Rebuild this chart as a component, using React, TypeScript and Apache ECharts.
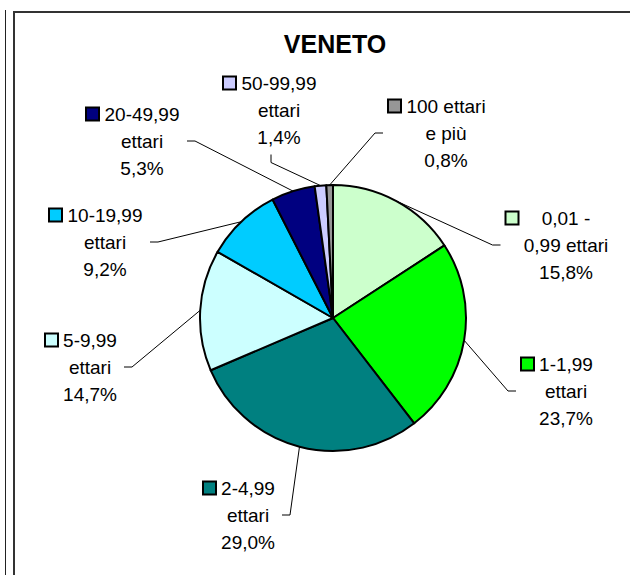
import { useEffect, useRef } from "react";
import * as echarts from "echarts";

// ---- data ----
const categories = [
  "0,01 - 0,99 ettari",
  "1-1,99 ettari",
  "2-4,99 ettari",
  "5-9,99 ettari",
  "10-19,99 ettari",
  "20-49,99 ettari",
  "50-99,99 ettari",
  "100 ettari e più",
];
const labelTextLines = [
  ["0,01 -", "0,99 ettari"],
  ["1-1,99", "ettari"],
  ["2-4,99", "ettari"],
  ["5-9,99", "ettari"],
  ["10-19,99", "ettari"],
  ["20-49,99", "ettari"],
  ["50-99,99", "ettari"],
  ["100 ettari", "e più"],
];
const values = [15.8, 23.7, 29.0, 14.7, 9.2, 5.3, 1.4, 0.8];
const colors = ["#CCFFCC", "#00FF00", "#008080", "#CCFFFF", "#00CCFF", "#000080", "#CCCCFF", "#969696"];
const titleText = "VENETO";

// ---- layout ----
const CENTER: [number, number] = [333, 318];
const RADIUS = 133;
const labelCenters: [number, number][] = [
  [558, 245],
  [558, 391],
  [240, 515],
  [82, 367],
  [97, 242],
  [134, 141],
  [271, 110],
  [438, 133],
];
const labelSides = ["left", "left", "right", "right", "right", "right", "bottom", "left"];
const FONT_FAMILY = '"Liberation Sans", Arial, sans-serif';
const FONT_SIZE = 19;
const LINE_H = 27;
const SQ = 11;
const GAP = 5;
const ELBOW = 8;

const pct = (v: number) => v.toFixed(1).replace(".", ",") + "%";

function measure(text: string): number {
  const ctx = document.createElement("canvas").getContext("2d");
  if (!ctx) return text.length * FONT_SIZE * 0.55;
  ctx.font = `${FONT_SIZE}px ${FONT_FAMILY}`;
  return ctx.measureText(text).width;
}

export default function App() {
  const ref = useRef<HTMLDivElement>(null);
  useEffect(() => {
    if (!ref.current) return;
    const chart = echarts.init(ref.current, undefined, { renderer: "svg" });

    const rich: Record<string, any> = {
      g: { width: GAP, lineHeight: LINE_H },
      pad: { width: SQ + GAP, lineHeight: LINE_H },
    };
    const allLines = labelTextLines.map((l, i) => [...l, pct(values[i])]);
    allLines.forEach((lines, i) => {
      const w = Math.ceil(Math.max(...lines.map(measure))) + 2;
      rich["sq" + i] = {
        width: SQ,
        height: SQ,
        backgroundColor: colors[i],
        borderColor: "#000",
        borderWidth: 2,
        verticalAlign: "middle",
        lineHeight: LINE_H,
      };
      rich["t" + i] = {
        width: w,
        align: "center",
        fontSize: FONT_SIZE,
        fontFamily: FONT_FAMILY,
        color: "#000",
        lineHeight: LINE_H,
      };
    });

    // cumulative mid angles for fallback arc points
    const total = values.reduce((a, b) => a + b, 0);
    const midPoints: [number, number][] = [];
    let acc = 0;
    values.forEach((v) => {
      const mid = ((acc + v / 2) / total) * Math.PI * 2;
      midPoints.push([CENTER[0] + RADIUS * Math.sin(mid), CENTER[1] - RADIUS * Math.cos(mid)]);
      acc += v;
    });

    chart.setOption({
      animation: false,
      title: {
        text: titleText,
        left: 335,
        top: 31,
        padding: 0,
        textAlign: "center",
        textStyle: { fontFamily: FONT_FAMILY, fontSize: 25, fontWeight: "bold", color: "#000" },
      },
      graphic: [
        { type: "line", shape: { x1: 5.5, y1: 10, x2: 5.5, y2: 575 }, style: { stroke: "#222", lineWidth: 1 } },
        { type: "line", shape: { x1: 14, y1: 12, x2: 14, y2: 575 }, style: { stroke: "#333", lineWidth: 2 } },
        { type: "line", shape: { x1: 13, y1: 12, x2: 630, y2: 12 }, style: { stroke: "#333", lineWidth: 2 } },
      ],
      series: [
        {
          type: "pie",
          center: CENTER,
          radius: RADIUS,
          startAngle: 90,
          clockwise: true,
          avoidLabelOverlap: false,
          emphasis: { disabled: true },
          itemStyle: { borderColor: "#000", borderWidth: 2 },
          data: categories.map((name, i) => ({
            name,
            value: values[i],
            itemStyle: { color: colors[i] },
          })),
          label: {
            show: true,
            position: "outside",
            padding: [4, 6, 4, 6],
            fontFamily: FONT_FAMILY,
            fontSize: FONT_SIZE,
            lineHeight: LINE_H,
            color: "#000",
            formatter: (p: any) => {
              const i = p.dataIndex;
              return allLines[i]
                .map((l, k) => (k === 0 ? `{sq${i}|}{g|}` : `{pad|}`) + `{t${i}|${l}}`)
                .join("\n");
            },
            rich,
          },
          labelLine: {
            show: true,
            length: 10,
            length2: ELBOW,
            lineStyle: { color: "#000", width: 1 },
          },
          labelLayout: (params: any) => {
            const i = params.dataIndex;
            const [cx, cy] = labelCenters[i];
            const w = params.labelRect.width;
            const h = params.labelRect.height;
            const l = cx - w / 2;
            const r = cx + w / 2;
            const t = cy - h / 2;
            const b = cy + h / 2;
            const arc =
              params.labelLinePoints && params.labelLinePoints[0]
                ? params.labelLinePoints[0]
                : midPoints[i];
            let anchor: number[];
            let elbow: number[];
            switch (labelSides[i]) {
              case "left":
                anchor = [l, cy];
                elbow = [l - ELBOW, cy];
                break;
              case "right":
                anchor = [r, cy];
                elbow = [r + ELBOW, cy];
                break;
              case "top":
                anchor = [cx, t];
                elbow = [cx, t - ELBOW];
                break;
              default:
                anchor = [cx, b];
                elbow = [cx, b + ELBOW];
            }
            return {
              x: cx,
              y: cy,
              align: "center",
              verticalAlign: "middle",
              labelLinePoints: [arc, elbow, anchor],
            };
          },
        },
      ],
    });
    return () => chart.dispose();
  }, []);

  return (
    <div
      ref={ref}
      style={{ position: "absolute", left: 0, top: 0, width: 630, height: 575, background: "#fff" }}
    />
  );
}
